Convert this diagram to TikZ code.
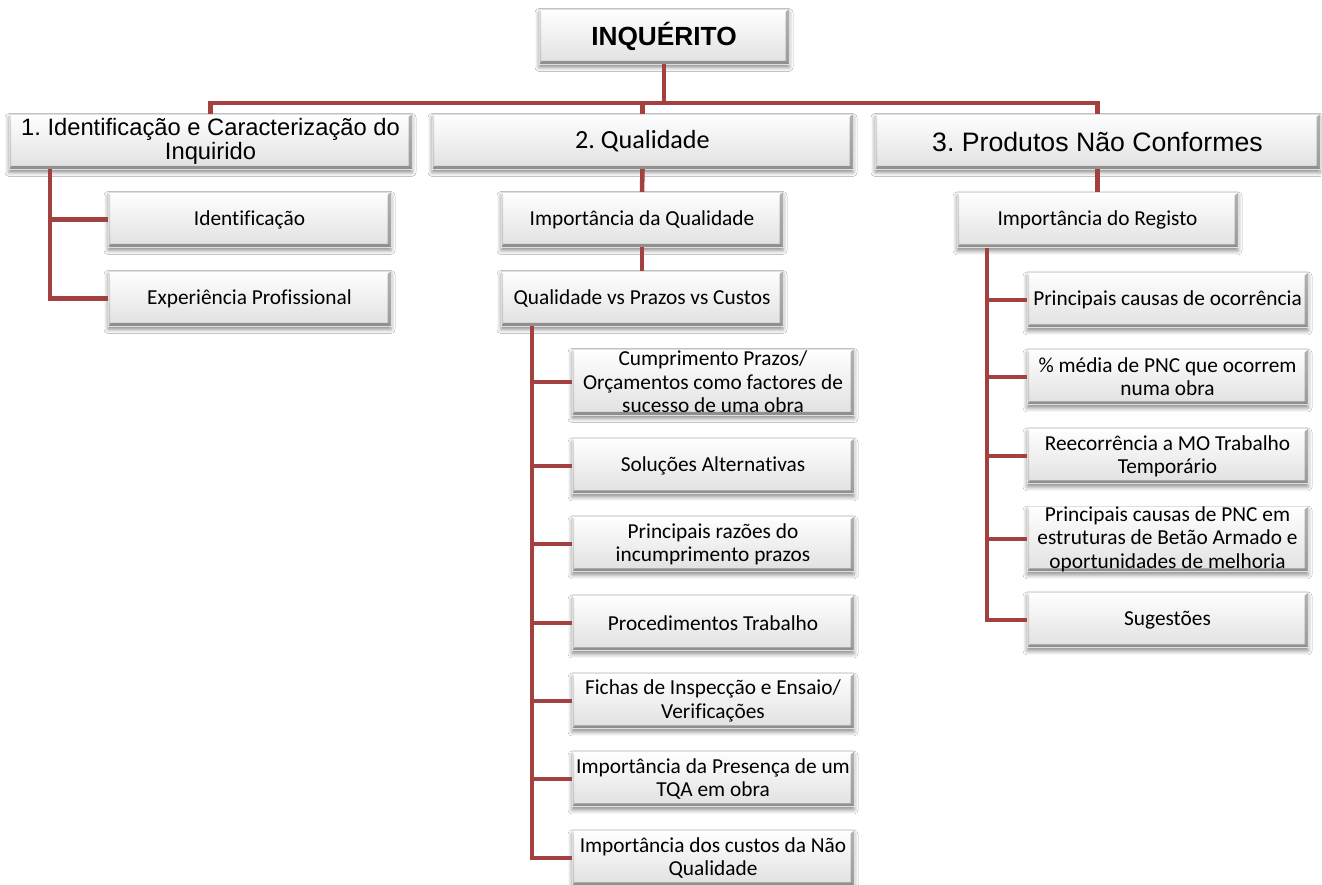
\documentclass[tikz,border=0pt]{standalone}
\usepackage{fontspec}
\setmainfont{Carlito}[Ligatures=NoCommon]
\newfontfamily\arialfont{Liberation Sans}[Ligatures=NoCommon]
\usetikzlibrary{shadows.blur}
\definecolor{linkred}{RGB}{163,64,64}
\frenchspacing
\begin{document}
\begin{tikzpicture}[x=0.75pt,y=-0.75pt,
  sz/.style 2 args={minimum width=#1*0.75pt, minimum height=#2*0.75pt},
  card/.style={rectangle, inner sep=0pt, align=center, draw=gray!25, line width=0.2pt,
    top color=white, bottom color=gray!24,
    blur shadow={shadow xshift=0pt, shadow yshift=-2.6pt, shadow blur radius=3pt, shadow opacity=45},
    path picture={
      % bevelled rim: dark bottom and right, light top
      \fill[black, opacity=0.36] (path picture bounding box.south west) -- (path picture bounding box.south east)
        -- ([shift={(-2.5pt,2.4pt)}]path picture bounding box.south east) -- ([shift={(2pt,2.4pt)}]path picture bounding box.south west) -- cycle;
      \fill[black, opacity=0.30] (path picture bounding box.south east) -- (path picture bounding box.north east)
        -- ([shift={(-2.5pt,-2pt)}]path picture bounding box.north east) -- ([shift={(-2.5pt,2.4pt)}]path picture bounding box.south east) -- cycle;
      \fill[black, opacity=0.14] (path picture bounding box.south west) -- (path picture bounding box.north west)
        -- ([shift={(1.6pt,-1.6pt)}]path picture bounding box.north west) -- ([shift={(1.6pt,2.4pt)}]path picture bounding box.south west) -- cycle;
      \fill[white, opacity=0.9] (path picture bounding box.north west) -- (path picture bounding box.north east)
        -- ([shift={(-2.5pt,-2pt)}]path picture bounding box.north east) -- ([shift={(1.6pt,-2pt)}]path picture bounding box.north west) -- cycle;
    }},
  leaf/.style={card, font=\fontsize{16}{17.5}\selectfont},
  head/.style={card, font=\arialfont\fontsize{17.8}{18}\selectfont},
  link/.style={draw=linkred, line width=3.4pt}
]
\fill[white] (0,0) rectangle (1322,885);
\useasboundingbox (0,0) rectangle (1322,885);

% top level
\node[card, sz={250}{55}, font=\arialfont\bfseries\fontsize{19.7}{22}\selectfont] (inq) at (664,36.5) {INQUÉRITO};
\node[head, sz={403}{55}] (c1) at (210.5,141.5) {1. Identificação e Caracterização do\\Inquirido};
\node[card, sz={421}{55}, font=\fontsize{19.6}{22}\selectfont] (c2) at (642.5,141.5) {2. Qualidade};
\node[card, sz={445}{55}, font=\arialfont\fontsize{20}{22}\selectfont] (c3) at (1097.5,141.5) {3. Produtos Não Conformes};

% branch 1
\node[leaf, sz={283}{55}] (c1a) at (249.5,219.5) {Identificação};
\node[leaf, sz={283}{55}] (c1b) at (249.5,298.5) {Experiência Profissional};

% branch 2
\node[leaf, sz={282}{55}] (c2a) at (642,219.5) {Importância da Qualidade};
\node[leaf, sz={282}{55}] (c2b) at (642,298.5) {Qualidade vs Prazos vs Custos};
\node[leaf, sz={282}{66}] (q1) at (713,382) {Cumprimento Prazos/\\Orçamentos como factores de\\sucesso de uma obra};
\node[leaf, sz={282}{55}] (q2) at (713,466) {Soluções Alternativas};
\node[leaf, sz={282}{55}] (q3) at (713,544) {Principais razões do\\incumprimento prazos};
\node[leaf, sz={282}{55}] (q4) at (713,623) {Procedimentos Trabalho};
\node[leaf, sz={282}{55}] (q5) at (713,701) {Fichas de Inspecção e Ensaio/\\Verificações};
\node[leaf, sz={282}{55}] (q6) at (713,779) {Importância da Presença de um\\TQA em obra};
\node[leaf, sz={282}{55}] (q7) at (713,858) {Importância dos custos da Não\\Qualidade};

% branch 3
\node[leaf, sz={281}{55}] (c3a) at (1097.5,220) {Importância do Registo};
\node[leaf, sz={281}{55}] (p1) at (1167.5,300) {Principais causas de ocorrência};
\node[leaf, sz={281}{55}] (p2) at (1167.5,377) {\% média de PNC que ocorrem\\numa obra};
\node[leaf, sz={281}{55}] (p3) at (1167.5,456) {Reecorrência a MO Trabalho\\Temporário};
\node[leaf, sz={281}{63}] (p4) at (1167.5,539) {Principais causas de PNC em\\estruturas de Betão Armado e\\oportunidades de melhoria};
\node[leaf, sz={281}{55}] (p5) at (1167.5,620) {Sugestões};

% connectors
\draw[link] (inq.south) -- (inq.south |- 0,103);
\draw[link] (c1.north) -- (c1.north |- 0,103) -| (c3.north);
\draw[link] (c2.north) -- (c2.north |- 0,103);

\draw[link] (c1.south -| 50,0) |- (c1b.west);
\draw[link] (c1a.west) -- (c1a.west -| 50,0);

\draw[link] (c2.south) -- (c2a.north);
\draw[link] (c2a.south) -- (c2b.north);
\draw[link] (c2b.south -| 532,0) |- (q7.west);
\foreach \n in {q1,q2,q3,q4,q5,q6}
  \draw[link] (\n.west) -- (\n.west -| 532,0);

\draw[link] (c3.south) -- (c3a.north);
\draw[link] (c3a.south -| 987,0) |- (p5.west);
\foreach \n in {p1,p2,p3,p4}
  \draw[link] (\n.west) -- (\n.west -| 987,0);
\end{tikzpicture}
\end{document}
